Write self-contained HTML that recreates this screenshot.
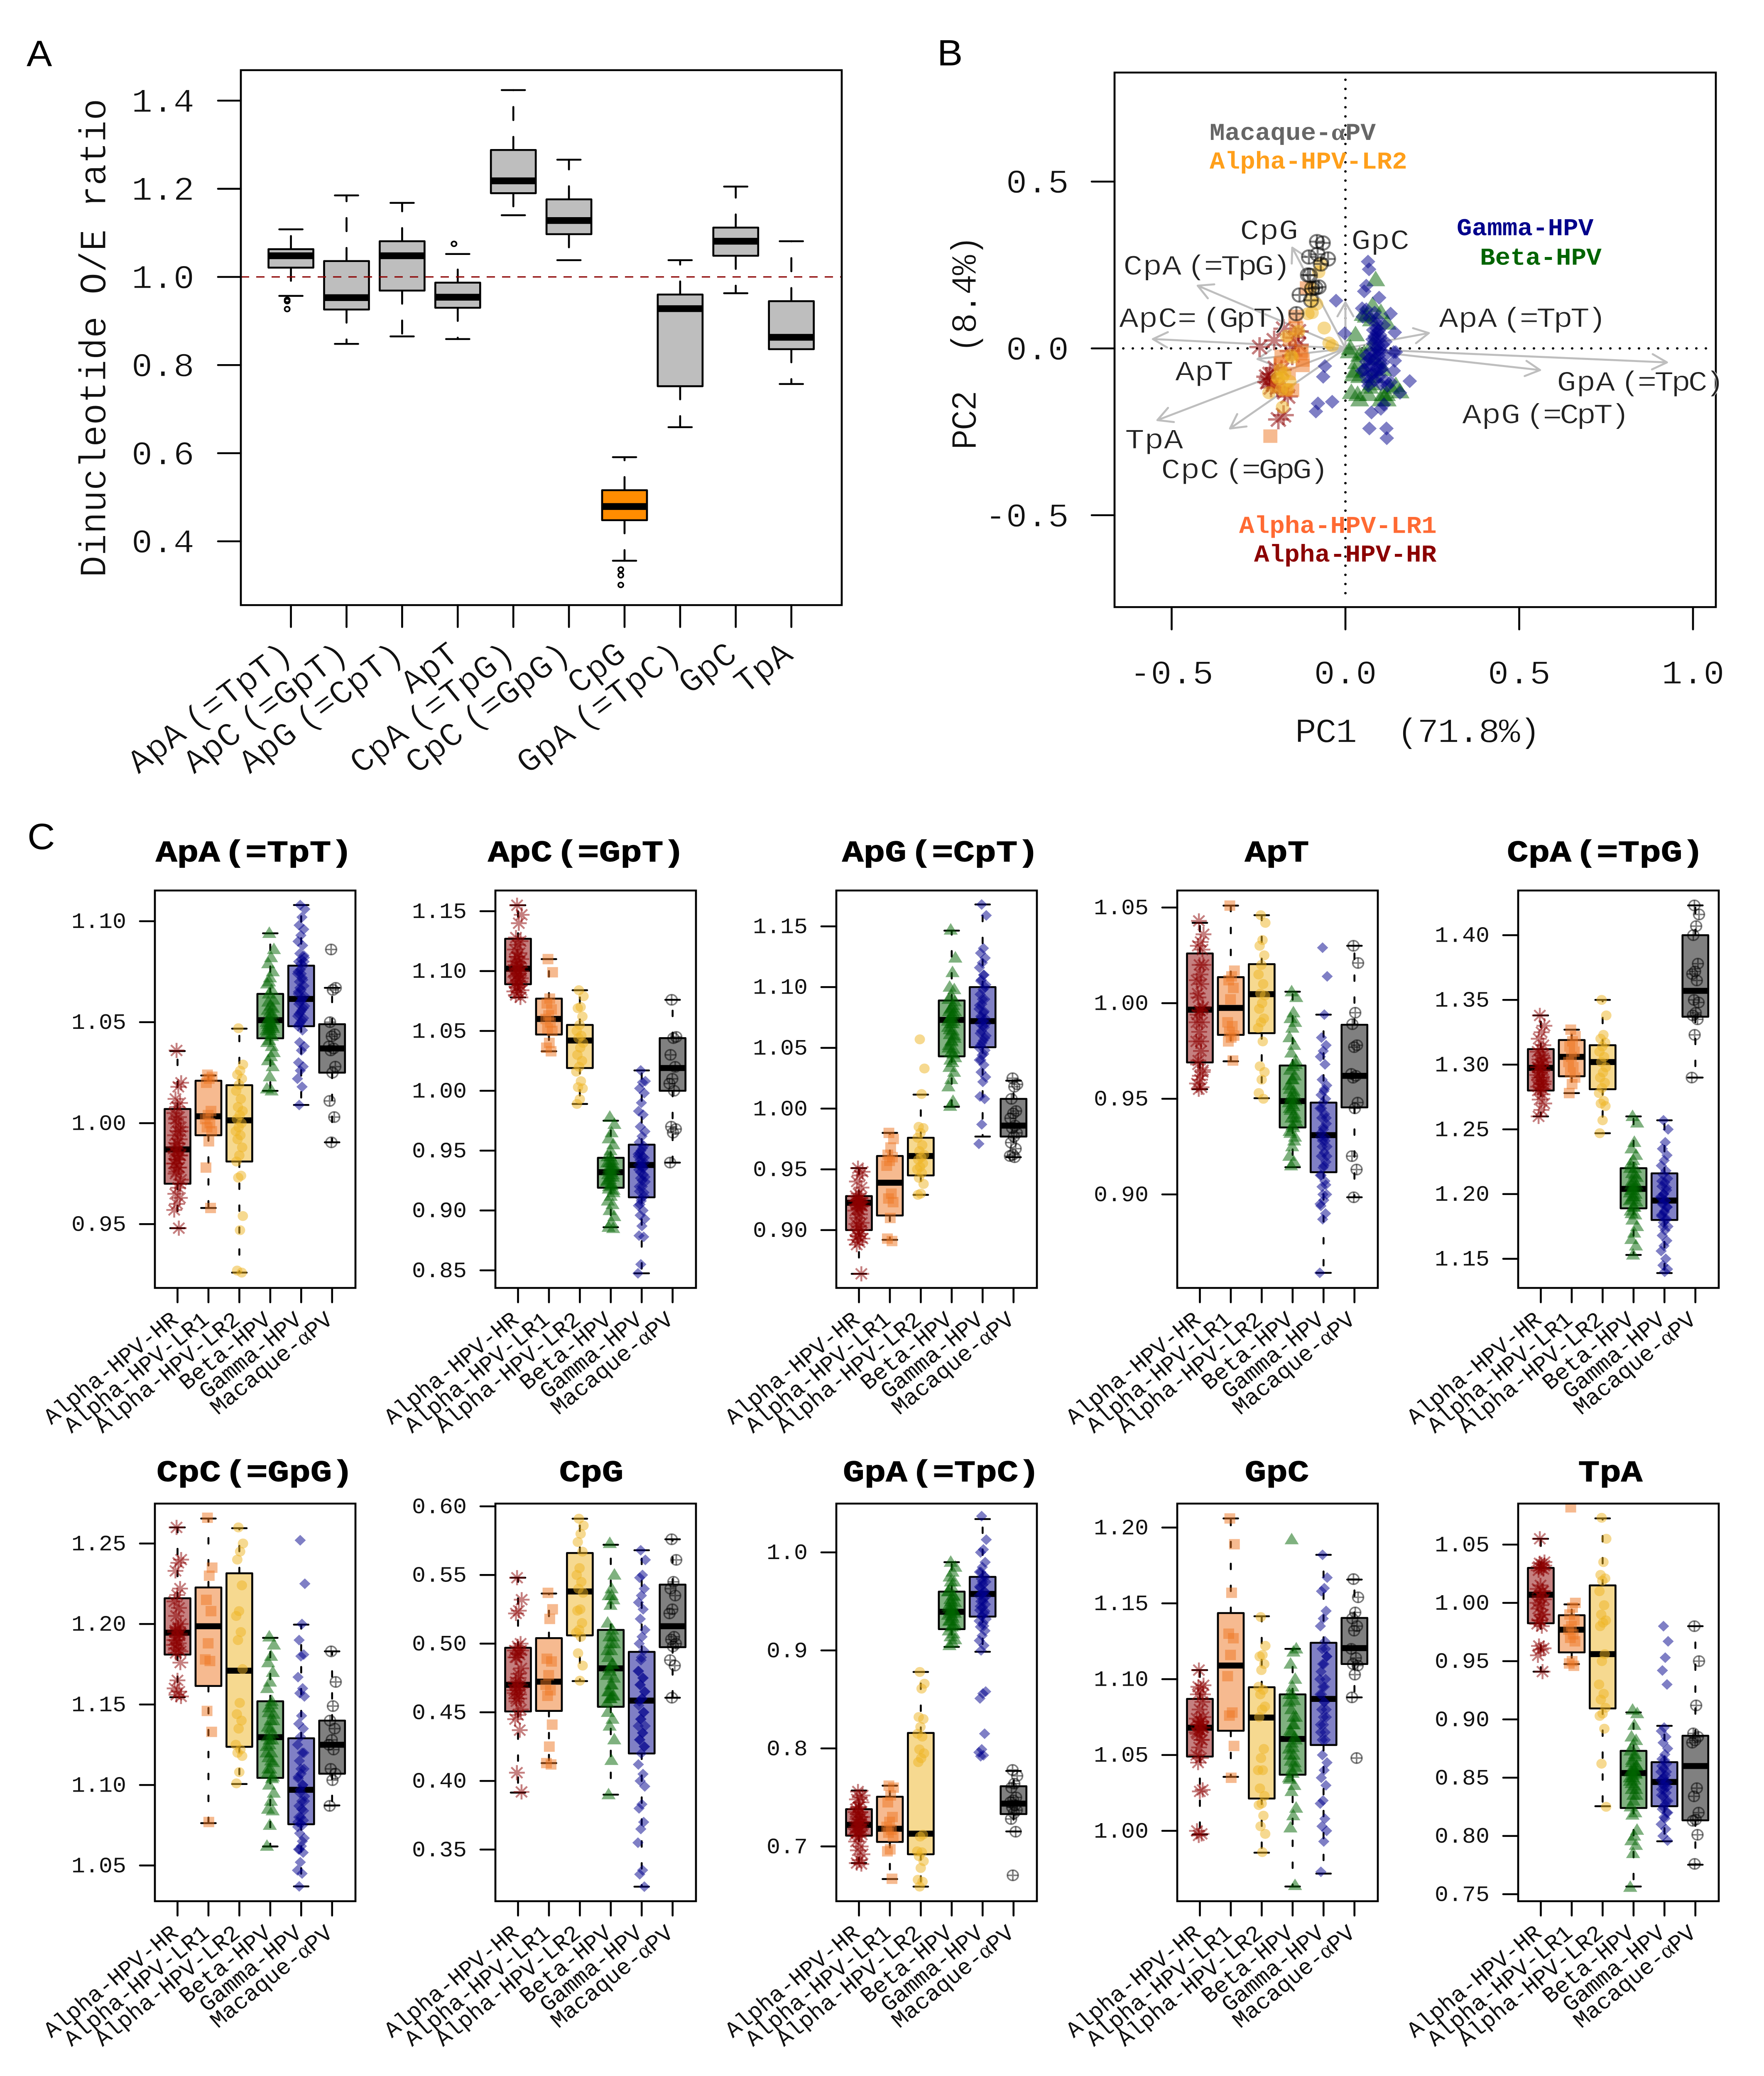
<!DOCTYPE html>
<html lang="en">
<head>
<meta charset="utf-8">
<title>Dinucleotide O/E ratio figure</title>
<style>
html,body{margin:0;padding:0;background:#fff;width:100vw;height:100vh;overflow:hidden;}
svg{display:block;width:100vw;height:100vh;}
text{font-family:"Liberation Mono",monospace;fill:#111;}
.letter{font-family:"Liberation Sans",sans-serif;font-size:92px;fill:#000;}
.ptitle{font-size:86px;font-weight:bold;text-anchor:middle;word-spacing:-42px;fill:#000;stroke:#000;stroke-width:1.4px;}
.anno{font-size:78px;fill:#222;word-spacing:-34px;stroke:#fff;stroke-width:1.2px;}
.par{letter-spacing:-6px;}
.leg{font-size:61px;font-weight:bold;}
.axt{font-size:86px;text-anchor:middle;white-space:pre;stroke:#fff;stroke-width:1.2px;}
.thin{stroke:#fff;stroke-width:1.2px;}
</style>
</head>
<body>
<svg id="fig" xmlns="http://www.w3.org/2000/svg" viewBox="0 0 4248 5208" preserveAspectRatio="none">
<rect x="0" y="0" width="4248" height="5208" fill="#fff"/>
<text class="letter" x="64" y="166">A</text>
<text class="letter" x="2257" y="164">B</text>
<text class="letter" x="66" y="2130">C</text>

<text class="axt" transform="translate(254 848) rotate(-90)" style="font-size:91px">Dinucleotide O/E ratio</text>
<text class="axt" transform="translate(2350 861) rotate(-90)" style="letter-spacing:-3px">PC2  (8.4%)</text>
<text class="axt" x="3413" y="1862" style="letter-spacing:-2.5px">PC1  (71.8%)</text>

<g id="panelA"></g>
<g id="panelB"></g>

<g>
<text class="anno" transform="translate(2986 600) scale(1 .9)">CpG</text>
<text class="anno" transform="translate(2705 689) scale(1 .9)">CpA <tspan class="par">(=TpG)</tspan></text>
<text class="anno" transform="translate(2695 820) scale(1 .9)">ApC= <tspan class="par">(GpT)</tspan></text>
<text class="anno" transform="translate(3254 625) scale(1 .9)">GpC</text>
<text class="anno" transform="translate(3465 820) scale(1 .9)">ApA <tspan class="par">(=TpT)</tspan></text>
<text class="anno" transform="translate(2830 954) scale(1 .9)">ApT</text>
<text class="anno" transform="translate(3749 980) scale(1 .9)">GpA <tspan class="par">(=TpC)</tspan></text>
<text class="anno" transform="translate(3521 1062) scale(1 .9)">ApG <tspan class="par">(=CpT)</tspan></text>
<text class="anno" transform="translate(2709 1125) scale(1 .9)">TpA</text>
<text class="anno" transform="translate(2796 1200) scale(1 .9)">CpC <tspan class="par">(=GpG)</tspan></text>
<text class="leg" x="2913" y="351" style="fill:#666">Macaque-<tspan style="font-family:'Liberation Serif',serif">α</tspan>PV</text>
<text class="leg" x="2913" y="423" style="fill:#FF9F1A">Alpha-HPV-LR2</text>
<text class="leg" x="3508" y="590" style="fill:#00008B">Gamma-HPV</text>
<text class="leg" x="3564" y="664" style="fill:#006400">Beta-HPV</text>
<text class="leg" x="2984" y="1337" style="fill:#FF6A33">Alpha-HPV-LR1</text>
<text class="leg" x="3020" y="1409" style="fill:#8B0000">Alpha-HPV-HR</text>
</g>

<g>
<text class="ptitle" transform="translate(612 2161) scale(1 .88)">ApA (=TpT)</text>
<text class="ptitle" transform="translate(1412 2161) scale(1 .88)">ApC (=GpT)</text>
<text class="ptitle" transform="translate(2265 2161) scale(1 .88)">ApG (=CpT)</text>
<text class="ptitle" transform="translate(3075 2161) scale(1 .88)">ApT</text>
<text class="ptitle" transform="translate(3866 2161) scale(1 .88)">CpA (=TpG)</text>
<text class="ptitle" transform="translate(614 3716) scale(1 .88)">CpC (=GpG)</text>
<text class="ptitle" transform="translate(1424 3716) scale(1 .88)">CpG</text>
<text class="ptitle" transform="translate(2267 3716) scale(1 .88)">GpA (=TpC)</text>
<text class="ptitle" transform="translate(3075 3716) scale(1 .88)">GpC</text>
<text class="ptitle" transform="translate(3878 3716) scale(1 .88)">TpA</text>
</g>
<g id="panelC"></g>
</svg>

<script>
/* ---------- Panel A data ---------- */
const dinucleotides = ["ApA (=TpT)","ApC (=GpT)","ApG (=CpT)","ApT","CpA (=TpG)","CpC (=GpG)","CpG","GpA (=TpC)","GpC","TpA"];
const aTicks = [1.4,1.2,1.0,0.8,0.6,0.4];
const aWhiskerHigh = [1.108,1.185,1.168,1.052,1.424,1.266,0.591,1.038,1.205,1.081];
const aQ3 = [1.063,1.036,1.081,0.987,1.288,1.176,0.516,0.960,1.112,0.945];
const aMedian = [1.048,0.953,1.048,0.954,1.218,1.128,0.479,0.928,1.081,0.863];
const aQ1 = [1.021,0.926,0.969,0.930,1.190,1.097,0.448,0.752,1.048,0.836];
const aWhiskerLow = [0.957,0.848,0.865,0.859,1.140,1.038,0.356,0.659,0.963,0.757];
const aOutlierGroup = [0,0,0,3,6,6,6];
const aOutlierValue = [0.948,0.945,0.927,1.075,0.336,0.323,0.301];

/* ---------- Panel B data ---------- */
const bTicksX = [-0.5,0.0,0.5,1.0];
const bTicksY = [0.5,0.0,-0.5];
const loadingNames = ["GpA","ApG","ApA","GpC","CpG","CpA","ApC","ApT","TpA","CpC"];
const loadingPC1 = [0.925,0.56,0.24,0,-0.153,-0.425,-0.554,-0.253,-0.541,-0.332];
const loadingPC2 = [-0.042,-0.065,0.046,0.138,0.302,0.188,0.028,-0.032,-0.215,-0.24];
const betaPC1 = [.087,.078,.051,.075,.029,.014,.011,.032,.026,.017,.041,.102,.120,.157,.118,.069,.041,.054,.075,.120,.102,.054,.084,.041,.130,.108,.035,.023,.084,.060,.078,.108,.145,.066];
const betaPC2 = [.205,.128,.101,.085,.040,0,-.011,-.043,-.069,-.133,-.155,-.155,-.155,-.131,-.139,-.117,-.085,-.064,-.107,.075,.107,-.016,-.032,-.021,-.117,-.139,-.139,-.080,-.085,.096,.011,-.064,-.112,-.139];
const gammaPC1 = [.065,.068,.060,.054,.097,-.027,-.002,.130,.048,.142,.185,-.059,-.064,-.079,-.038,-.085,.075,.069,.118,.119,.102,.111,.157,.145,.142,.139,.060,.084,.090,.090,.084,.096,.078,.108,.090,.102,.072,.084,.096,.060,.114,.084,.108,.066,.090,.054,.102,.048,.078,.096,.060,.114,.084,.130,.102,.066,.121,.139,.09,.1,.08,.095,.085,.075,.1,.07,.05,.11,.09,.065,.1,.085,.095,.07,.105,.09,.08,.075,.115,.06];
const gammaPC2 = [.260,.237,.188,.171,.152,.143,.045,.104,.120,.048,-.098,-.053,-.085,-.165,-.160,-.189,-.192,-.240,-.240,-.269,-.181,-.168,-.133,-.011,-.037,-.067,.117,.107,.075,.048,.037,.053,.027,.011,0,-.005,-.011,-.016,-.021,-.021,-.021,-.037,-.043,-.053,-.059,-.064,-.064,-.067,-.075,-.085,-.085,-.096,-.096,-.101,-.107,-.112,-.112,-.011,.06,.03,.015,.01,-.03,-.05,-.045,.09,.095,.07,.09,-.1,.04,.03,-.005,-.03,-.06,-.07,.055,-.08,.02,-.04];
const hrPC1 = [-.247,-.205,-.178,-.135,-.135,-.160,-.153,-.202,-.220,-.224,-.196,-.214,-.166,-.178,-.193,-.175,-.227,-.217,-.144,-.184,-.208];
const hrPC2 = [.004,.024,.059,.051,.011,-.008,-.021,-.059,-.091,-.101,-.117,-.117,-.144,-.200,-.213,-.131,-.085,-.077,.032,-.064,-.107];
const lr1PC1 = [-.144,-.141,-.126,-.184,-.123,-.187,-.163,-.216,-.16,-.111,-.196,-.172,-.129,-.123,-.153];
const lr1PC2 = [.096,.061,-.008,-.024,-.051,-.045,-.075,-.263,.027,.181,-.112,-.125,-.016,-.035,-.125];
const lr2PC1 = [-.071,-.077,-.099,-.099,-.083,-.108,-.096,-.061,-.047,-.038,-.169,-.135,-.157,-.181,-.160,-.220,-.184,-.166,-.181,-.153,-.187,-.196,-.193,-.175];
const lr2PC2 = [.253,.229,.181,.144,.133,.104,.107,.061,.016,.008,.037,.051,-.021,-.085,-.099,-.133,-.123,-.123,-.176,-.027,-.064,-.085,-.091,-.075];
const macaquePC1 = [-.082,-.065,-.105,-.080,-.050,-.071,-.108,-.077,-.096,-.132,-.099,-.141,-.102,-.086];
const macaquePC2 = [.320,.316,.274,.282,.268,.253,.220,.184,.179,.160,.144,.104,.219,.181];

/* ---------- Panel C data ---------- */
const groups = ["Alpha-HPV-HR","Alpha-HPV-LR1","Alpha-HPV-LR2","Beta-HPV","Gamma-HPV","Macaque-αPV"];

const ApA_ticks = [1.10,1.05,1.00,0.95];
const ApA_box = [[.948,.970,.987,1.007,1.0357],[.958,.994,1.0034,1.021,1.0236],[.926,.981,1.0014,1.0188,1.0468],[1.016,1.042,1.051,1.064,1.094],[1.009,1.048,1.0615,1.078,1.108],[.9905,1.025,1.037,1.049,1.067]];
const ApA_hr = [1.036,1.020,1.018,1.012,1.010,1.008,1.005,1.003,1.000,.998,.996,.994,.992,.990,.988,.987,.985,.984,.982,.980,.978,.976,.972,.968,.965,.963,.960,.957,.948,1.002,.996,.99,.986,.984,.982,.98,.978,.975,.97];
const ApA_lr1 = [1.024,1.023,1.022,1.020,1.006,1.004,1.002,1.0,.998,.996,.991,.978,.958];
const ApA_lr2 = [1.047,1.029,1.026,1.024,1.022,1.019,1.016,1.012,1.008,1.006,1.004,1.002,1.0,.998,.996,.994,.992,.988,.984,.981,.974,.973,.954,.947,.927,.926];
const ApA_beta = [1.094,1.086,1.082,1.079,1.075,1.072,1.069,1.066,1.064,1.061,1.058,1.056,1.054,1.052,1.05,1.049,1.048,1.047,1.046,1.045,1.043,1.041,1.035,1.033,1.031,1.028,1.023,1.017,1.016,1.052,1.051,1.05,1.049,1.048,1.047,1.046,1.044,1.06,1.057,1.055,1.04,1.038,1.07];
const ApA_gamma = [1.108,1.106,1.102,1.098,1.096,1.093,1.09,1.088,1.084,1.082,1.081,1.08,1.078,1.076,1.074,1.072,1.07,1.068,1.066,1.064,1.062,1.06,1.058,1.056,1.054,1.052,1.05,1.048,1.046,1.04,1.038,1.036,1.03,1.028,1.026,1.022,1.018,1.009,1.083,1.079,1.075,1.071,1.067,1.063,1.061,1.059,1.057,1.055,1.053,1.051,1.049,1.08,1.074,1.065];
const ApA_mac = [1.086,1.067,1.066,1.05,1.044,1.043,1.038,1.037,1.036,1.028,1.025,1.011,1.003,.9905];

const ApC_ticks = [1.15,1.10,1.05,1.00,0.95,0.90,0.85];
const ApC_box = [[1.078,1.089,1.102,1.127,1.155],[1.033,1.047,1.060,1.077,1.110],[.989,1.019,1.042,1.055,1.084],[.886,.919,.932,.944,.975],[.8475,.911,.938,.955,1.017],[.940,1.000,1.019,1.044,1.076]];
const ApC_hr = [1.155,1.147,1.14,1.128,1.125,1.122,1.118,1.115,1.112,1.11,1.107,1.105,1.103,1.101,1.1,1.098,1.096,1.094,1.092,1.09,1.088,1.086,1.084,1.082,1.08,1.078,1.112,1.108,1.104,1.102,1.1,1.097,1.095,1.091,1.087,1.083];
const ApC_lr1 = [1.110,1.099,1.077,1.073,1.068,1.063,1.06,1.057,1.052,1.05,1.04,1.036,1.033];
const ApC_lr2 = [1.084,1.079,1.07,1.069,1.062,1.055,1.05,1.046,1.044,1.04,1.036,1.03,1.025,1.02,1.016,1.008,1.003,1.002,.993,.989];
const ApC_beta = [.978,.972,.965,.96,.955,.95,.945,.942,.94,.937,.935,.933,.93,.928,.925,.922,.92,.917,.912,.908,.905,.9,.895,.89,.886,.885,.945,.94,.938,.936,.934,.932,.93,.928,.926,.924,.921,.918,.915];
const ApC_gamma = [1.017,1.008,1.007,1.002,.998,.99,.983,.98,.97,.966,.962,.957,.954,.95,.947,.945,.942,.94,.937,.934,.93,.927,.924,.92,.916,.912,.908,.904,.9,.896,.893,.887,.879,.878,.855,.8475,.952,.948,.944,.94,.938,.936,.932,.928,.925,.92,.915,.91,.945,.935,.905];
const ApC_mac = [1.076,1.045,1.044,1.03,1.02,1.01,1.006,1.0,.97,.968,.965,.94];

const ApG_ticks = [1.15,1.10,1.05,1.00,0.95,0.90];
const ApG_box = [[.864,.900,.9225,.928,.951],[.892,.912,.939,.961,.980],[.929,.945,.961,.976,1.0115],[1.0015,1.043,1.073,1.089,1.1465],[.977,1.0505,1.072,1.10,1.168],[.96,.977,.986,1.008,1.023]];
const ApG_hr = [.951,.948,.945,.94,.935,.93,.928,.926,.924,.923,.922,.921,.92,.918,.916,.913,.91,.906,.903,.9,.897,.895,.893,.89,.888,.864,.925,.924,.923,.921,.92,.917,.905,.9,.895,.892];
const ApG_lr1 = [.98,.975,.968,.962,.96,.957,.953,.93,.926,.923,.91,.893,.891];
const ApG_lr2 = [1.057,1.033,1.012,.985,.984,.98,.976,.97,.965,.962,.96,.958,.955,.952,.95,.947,.943,.938,.93,.929];
const ApG_beta = [1.147,1.124,1.112,1.1,1.098,1.093,1.09,1.085,1.082,1.08,1.077,1.074,1.072,1.07,1.067,1.064,1.061,1.058,1.055,1.052,1.049,1.046,1.042,1.038,1.034,1.03,1.024,1.018,1.006,1.002,1.088,1.083,1.08,1.078,1.075,1.072,1.07,1.065,1.06,1.056,1.05,1.045,1.04];
const ApG_gamma = [1.168,1.159,1.132,1.128,1.124,1.12,1.116,1.11,1.106,1.102,1.098,1.094,1.09,1.086,1.082,1.079,1.076,1.074,1.072,1.07,1.067,1.064,1.06,1.056,1.052,1.048,1.044,1.04,1.036,1.03,1.026,1.022,1.01,1.008,.987,.971,1.11,1.105,1.1,1.09,1.085,1.08,1.075,1.07,1.068,1.062,1.058,1.054,1.05,1.045,1.04];
const ApG_mac = [1.025,1.02,1.018,1.008,.998,.996,.992,.986,.984,.98,.977,.972,.967,.962,.961,.96];

const ApT_ticks = [1.05,1.00,0.95,0.90];
const ApT_box = [[.955,.969,.9966,1.026,1.042],[.9696,.9834,.9975,1.0136,1.051],[.9503,.9843,1.0047,1.0204,1.046],[.9142,.935,.9488,.9674,1.006],[.859,.9116,.931,.948,.994],[.8985,.9455,.962,.9887,1.03]];
const ApT_hr = [1.043,1.036,1.032,1.03,1.028,1.02,1.012,1.01,1.003,.998,.996,.994,.99,.985,.98,.975,.968,.964,.962,.958,.956,.955,1.02,1.015,1.005,.997,.996,.99,.98,.97,.965,.96];
const ApT_lr1 = [1.051,1.017,1.014,1.012,1.008,1.002,.99,.988,.985,.983,.982,.98,.97];
const ApT_lr2 = [1.046,1.042,1.033,1.03,1.025,1.02,1.015,1.01,1.005,1.004,1.0,.997,.992,.99,.987,.98,.967,.964,.96,.953,.95];
const ApT_beta = [1.006,1.003,.995,.992,.99,.987,.982,.978,.974,.97,.967,.965,.962,.96,.957,.954,.951,.949,.947,.945,.942,.94,.938,.935,.932,.93,.925,.92,.917,.915,.968,.96,.955,.952,.95,.948,.946,.944,.94,.936,.933,.928];
const ApT_gamma = [1.029,1.014,.994,.982,.978,.975,.972,.968,.96,.957,.954,.952,.95,.948,.945,.942,.94,.937,.934,.932,.93,.928,.925,.922,.92,.917,.914,.91,.907,.904,.9,.897,.894,.89,.887,.859,.955,.945,.94,.935,.93,.928,.925,.92,.915,.91,.905,.9,.895];
const ApT_mac = [1.03,1.021,.995,.989,.978,.977,.963,.962,.961,.948,.945,.92,.913,.8985];

const CpA_ticks = [1.40,1.35,1.30,1.25,1.20,1.15];
const CpA_box = [[1.26,1.28,1.2975,1.312,1.338],[1.278,1.291,1.306,1.319,1.327],[1.247,1.281,1.302,1.315,1.35],[1.153,1.189,1.204,1.22,1.26],[1.139,1.18,1.195,1.216,1.257],[1.29,1.337,1.357,1.40,1.423]];
const CpA_hr = [1.338,1.33,1.325,1.32,1.315,1.312,1.31,1.307,1.304,1.302,1.3,1.298,1.296,1.294,1.292,1.29,1.288,1.285,1.282,1.28,1.277,1.273,1.27,1.265,1.26,1.305,1.3,1.298,1.295,1.29,1.287,1.285,1.283,1.281];
const CpA_lr1 = [1.327,1.322,1.318,1.314,1.31,1.306,1.302,1.298,1.294,1.29,1.285,1.278];
const CpA_lr2 = [1.35,1.338,1.323,1.32,1.317,1.314,1.31,1.306,1.302,1.298,1.294,1.29,1.286,1.282,1.278,1.272,1.27,1.268,1.257,1.247];
const CpA_beta = [1.26,1.255,1.24,1.235,1.23,1.226,1.223,1.22,1.216,1.213,1.21,1.207,1.205,1.203,1.201,1.198,1.196,1.194,1.19,1.187,1.184,1.18,1.175,1.17,1.165,1.16,1.153,1.22,1.215,1.21,1.207,1.205,1.203,1.2,1.198,1.195,1.19,1.185];
const CpA_gamma = [1.257,1.25,1.24,1.235,1.23,1.226,1.222,1.218,1.215,1.212,1.209,1.206,1.203,1.2,1.197,1.195,1.192,1.19,1.187,1.184,1.181,1.178,1.175,1.172,1.168,1.164,1.16,1.156,1.15,1.145,1.142,1.14,1.21,1.205,1.2,1.198,1.195,1.193,1.19,1.186,1.183,1.18,1.175];
const CpA_mac = [1.423,1.416,1.407,1.4,1.378,1.372,1.37,1.365,1.35,1.348,1.34,1.338,1.335,1.323,1.29];

const CpC_ticks = [1.25,1.20,1.15,1.10,1.05];
const CpC_box = [[1.1545,1.181,1.1946,1.216,1.26],[1.0763,1.1615,1.1986,1.2227,1.2655],[1.1006,1.1237,1.171,1.2315,1.2595],[1.0618,1.1044,1.1297,1.152,1.1914],[1.037,1.0756,1.097,1.129,1.1996],[1.0873,1.107,1.125,1.14,1.183]];
const CpC_hr = [1.26,1.24,1.238,1.233,1.222,1.218,1.214,1.21,1.205,1.2,1.197,1.195,1.193,1.19,1.187,1.184,1.182,1.176,1.165,1.16,1.158,1.156,1.155,1.198,1.196,1.194,1.192,1.19,1.188,1.185,1.183];
const CpC_lr1 = [1.266,1.235,1.23,1.215,1.208,1.188,1.178,1.177,1.146,1.133,1.077];
const CpC_lr2 = [1.26,1.25,1.245,1.24,1.224,1.208,1.205,1.195,1.19,1.172,1.151,1.144,1.14,1.135,1.125,1.122,1.12,1.118,1.108,1.101];
const CpC_beta = [1.192,1.187,1.18,1.176,1.17,1.164,1.16,1.152,1.148,1.144,1.14,1.136,1.132,1.128,1.124,1.12,1.117,1.114,1.11,1.107,1.104,1.1,1.095,1.09,1.085,1.084,1.075,1.062,1.15,1.145,1.14,1.135,1.13,1.128,1.125,1.12,1.115,1.11,1.105];
const CpC_gamma = [1.252,1.225,1.2,1.19,1.181,1.18,1.167,1.16,1.157,1.155,1.143,1.138,1.135,1.13,1.125,1.12,1.115,1.11,1.107,1.104,1.1,1.097,1.093,1.09,1.087,1.084,1.08,1.077,1.075,1.07,1.067,1.062,1.06,1.058,1.052,1.047,1.045,1.037,1.12,1.11,1.105,1.1,1.095,1.09,1.085,1.08,1.078,1.076,1.074,1.065,1.06];
const CpC_mac = [1.183,1.164,1.149,1.14,1.135,1.128,1.125,1.122,1.11,1.107,1.103,1.087];

const CpG_ticks = [0.60,0.55,0.50,0.45,0.40,0.35];
const CpG_box = [[.3915,.4506,.47,.497,.548],[.413,.451,.4723,.504,.5365],[.4727,.506,.538,.566,.591],[.39,.454,.482,.51,.572],[.323,.42,.4585,.494,.568],[.4606,.4974,.5127,.543,.576]];
const CpG_hr = [.548,.532,.524,.522,.5,.498,.495,.492,.49,.482,.478,.472,.47,.468,.466,.463,.46,.452,.448,.445,.437,.406,.392,.475,.47,.468,.466,.464,.46,.458,.495,.493,.49];
const CpG_lr1 = [.537,.525,.518,.489,.487,.477,.47,.466,.462,.441,.425,.413,.412];
const CpG_lr2 = [.591,.586,.58,.574,.567,.555,.55,.545,.54,.537,.525,.524,.515,.51,.508,.505,.493,.484,.473];
const CpG_beta = [.573,.55,.54,.535,.532,.528,.515,.51,.505,.5,.495,.49,.485,.48,.477,.47,.465,.462,.46,.45,.445,.44,.43,.415,.39,.505,.5,.495,.485,.482,.475,.47,.465,.462,.46,.457,.535];
const CpG_gamma = [.568,.561,.55,.548,.54,.535,.53,.525,.518,.51,.505,.5,.495,.488,.48,.475,.47,.465,.46,.455,.45,.445,.44,.435,.43,.425,.42,.412,.405,.4,.396,.383,.38,.37,.365,.355,.335,.332,.323,.49,.48,.475,.47,.465,.46,.458,.45,.445,.44,.435,.43,.425];
const CpG_mac = [.576,.561,.545,.54,.535,.525,.522,.505,.503,.5,.498,.488,.484,.4606];

const GpA_ticks = [1.0,0.9,0.8,0.7];
const GpA_box = [[.683,.711,.722,.738,.757],[.6667,.7046,.718,.7507,.762],[.659,.692,.713,.8158,.878],[.9036,.9217,.9394,.96,.99],[.8986,.9345,.9576,.975,1.034],[.7153,.733,.7437,.7614,.777]];
const GpA_hr = [.756,.752,.75,.748,.745,.74,.738,.735,.733,.73,.727,.725,.723,.72,.718,.716,.714,.712,.71,.705,.7,.696,.692,.686,.683,.682,.74,.735,.73,.728,.725,.722,.72,.718,.715,.712];
const GpA_lr1 = [.762,.76,.752,.745,.73,.725,.72,.717,.714,.71,.697,.695,.667];
const GpA_lr2 = [.878,.866,.861,.832,.83,.822,.815,.812,.799,.795,.79,.786,.712,.71,.695,.694,.69,.685,.678,.666,.664,.659];
const GpA_beta = [.99,.985,.98,.975,.97,.965,.96,.956,.952,.949,.946,.943,.94,.938,.936,.933,.93,.927,.924,.92,.917,.914,.911,.908,.905,.955,.95,.945,.942,.94,.938,.935,.93,.925,.97,.96];
const GpA_gamma = [1.037,1.013,1.003,1.0,.99,.985,.98,.976,.973,.97,.967,.964,.96,.958,.956,.953,.95,.947,.944,.941,.938,.935,.932,.928,.924,.92,.915,.91,.905,.9,.858,.856,.851,.815,.799,.796,.793,.792,.975,.97,.965,.96,.957,.955,.95,.945,.94,.935,.93,.925,.98];
const GpA_mac = [.778,.772,.764,.76,.75,.747,.745,.742,.74,.737,.734,.728,.715,.6705];

const GpC_ticks = [1.20,1.15,1.10,1.05,1.00];
const GpC_box = [[.9976,1.049,1.068,1.087,1.106],[1.0356,1.066,1.109,1.1436,1.206],[.9856,1.0213,1.0747,1.0947,1.1415],[.9633,1.037,1.0606,1.09,1.12],[.9718,1.0566,1.087,1.124,1.182],[1.088,1.11,1.1205,1.1404,1.1657]];
const GpC_hr = [1.106,1.096,1.094,1.09,1.085,1.08,1.074,1.072,1.07,1.068,1.066,1.064,1.06,1.055,1.05,1.048,1.045,1.027,1.026,1.0,.998,.997,1.075,1.072,1.07,1.068,1.067,1.065,1.06,1.095,1.09];
const GpC_lr1 = [1.206,1.189,1.157,1.13,1.127,1.116,1.102,1.078,1.076,1.056,1.035];
const GpC_lr2 = [1.141,1.122,1.116,1.115,1.11,1.106,1.095,1.093,1.09,1.082,1.08,1.075,1.054,1.048,1.04,1.04,1.028,1.023,1.018,1.017,1.01,1.003,.998,.986];
const GpC_beta = [1.192,1.12,1.118,1.11,1.1,1.095,1.09,1.086,1.08,1.075,1.07,1.066,1.062,1.058,1.054,1.05,1.046,1.042,1.038,1.034,1.03,1.026,1.015,1.01,1.002,.964,1.09,1.085,1.07,1.065,1.06,1.055,1.05,1.045,1.04,1.035,1.075];
const GpC_gamma = [1.182,1.167,1.16,1.158,1.145,1.14,1.135,1.125,1.12,1.115,1.11,1.105,1.1,1.095,1.09,1.085,1.08,1.075,1.07,1.065,1.06,1.05,1.045,1.04,1.035,1.03,1.02,1.018,1.008,1.003,1.0,.993,.973,1.12,1.11,1.1,1.095,1.09,1.08,1.075,1.07,1.065,1.06,1.115,1.085];
const GpC_mac = [1.166,1.154,1.144,1.14,1.135,1.132,1.12,1.114,1.11,1.109,1.103,1.088,1.048];

const TpA_ticks = [1.05,1.00,0.95,0.90,0.85,0.80,0.75];
const TpA_box = [[.941,.9825,1.007,1.03,1.055],[.9475,.9575,.977,.9894,.9987],[.8255,.9094,.956,1.015,1.0725],[.7566,.824,.854,.873,.906],[.7954,.8255,.8463,.8633,.8945],[.7753,.8134,.86,.886,.98]];
const TpA_hr = [1.055,1.035,1.033,1.031,1.029,1.015,1.012,1.01,1.006,1.003,.998,.995,.99,.985,.982,.98,.963,.961,.96,.955,.941,1.034,1.032,1.03,1.028,1.01,1.005,1.0,.99,.985];
const TpA_lr1 = [1.082,1.0,.996,.99,.985,.98,.977,.973,.97,.967,.95,.948,.946];
const TpA_lr2 = [1.073,1.055,1.035,1.024,1.021,1.019,1.01,.998,.99,.985,.983,.98,.956,.95,.93,.922,.917,.91,.905,.903,.892,.862,.825];
const TpA_beta = [.908,.905,.895,.885,.882,.878,.873,.868,.863,.86,.857,.855,.853,.85,.847,.843,.84,.835,.83,.825,.82,.818,.805,.8,.796,.792,.785,.756,.87,.865,.86,.858,.856,.854,.852,.85,.848,.845,.84,.835];
const TpA_gamma = [.98,.967,.953,.942,.93,.893,.89,.885,.88,.875,.87,.866,.862,.858,.855,.852,.849,.846,.843,.84,.837,.834,.83,.827,.823,.82,.816,.81,.806,.8,.796,.865,.86,.855,.85,.848,.846,.844,.842,.84,.835,.83,.825,.82,.815];
const TpA_mac = [.98,.95,.912,.888,.885,.882,.88,.841,.834,.82,.814,.813,.801,.776];

/* ---------- Rendering ---------- */
const NS = "http://www.w3.org/2000/svg";
const LW = 4.7;

function make(parent, tag, name, attrs) {
  const el = document.createElementNS(NS, tag);
  
  
  for (const k in attrs) el.setAttribute(k, attrs[k]);
  parent.appendChild(el);
  return el;
}
function seg(p, name, x1, y1, x2, y2, extra) {
  return make(p, 'line', name, Object.assign({x1, y1, x2, y2, stroke:'#000', 'stroke-width':LW, 'stroke-linecap':'round'}, extra || {}));
}
function label(p, name, x, y, str, attrs) {
  const t = make(p, 'text', name, Object.assign({x, y}, attrs));
  const idx = str.indexOf('α');
  if (idx < 0) { t.textContent = str; return t; }
  t.appendChild(document.createTextNode(str.slice(0, idx)));
  const sp = document.createElementNS(NS, 'tspan');
  sp.setAttribute('style', "font-family:'Liberation Serif',serif");
  sp.textContent = 'α';
  t.appendChild(sp);
  t.appendChild(document.createTextNode(str.slice(idx + 1)));
  return t;
}
function linear(d0, d1, r0, r1) { return v => r0 + (v - d0) * (r1 - r0) / (d1 - d0); }
function jitterAt(i) { const f = (i * 0.618034 + 0.37) % 1; return f * 2 - 1; }

const COLORS = ['#8B0000','#EE7621','#EEB422','#006400','#00008B','#000000'];
const BOXFILL = ['#C58080','#F6BA90','#F6D990','#80B180','#8080C5','#808080'];
const MARK_NAMES = ['point-alpha-hr','point-alpha-lr1','point-alpha-lr2','point-beta','point-gamma','point-macaque'];

/* draws one marker of series s centred on x,y; k scales the glyph */
function marker(p, s, x, y, k) {
  const c = COLORS[s], n = MARK_NAMES[s];
  if (s === 0) {
    const r = 19 * k, q = r * 0.707;
    make(p, 'path', n, {d:`M${x-r} ${y}H${x+r}M${x} ${y-r}V${y+r}M${x-q} ${y-q}L${x+q} ${y+q}M${x-q} ${y+q}L${x+q} ${y-q}`, stroke:c, 'stroke-width':4.6*k, 'stroke-opacity':0.5, fill:'none'});
  } else if (s === 1) {
    const r = 13 * k;
    make(p, 'rect', n, {x:x-r, y:y-r, width:2*r, height:2*r, fill:c, 'fill-opacity':0.5});
  } else if (s === 2) {
    make(p, 'circle', n, {cx:x, cy:y, r:12.5*k, fill:c, 'fill-opacity':0.5});
  } else if (s === 3) {
    const b = 17 * k, h = 29 * k;
    make(p, 'path', n, {d:`M${x} ${y-h*0.6}L${x+b} ${y+h*0.4}L${x-b} ${y+h*0.4}Z`, fill:c, 'fill-opacity':0.5});
  } else if (s === 4) {
    const r = 13.5 * k;
    make(p, 'path', n, {d:`M${x} ${y-r}L${x+r} ${y}L${x} ${y+r}L${x-r} ${y}Z`, fill:c, 'fill-opacity':0.5});
  } else {
    const r = 13 * k;
    make(p, 'path', n, {d:`M${x-r} ${y}H${x+r}M${x} ${y-r}V${y+r}`, stroke:c, 'stroke-width':3.8*k, 'stroke-opacity':0.5, fill:'none'});
    make(p, 'circle', n + '-ring', {cx:x, cy:y, r:r, stroke:c, 'stroke-width':3.8*k, 'stroke-opacity':0.5, fill:'none'});
  }
}

function boxGlyph(p, cx, halfBox, capHalf, y, stats, fill, medW, dash) {
  const lo = y(stats[0]), q1 = y(stats[1]), med = y(stats[2]), q3 = y(stats[3]), hi = y(stats[4]);
  seg(p, 'whisker-upper', cx, q3, cx, hi, {'stroke-dasharray':dash});
  seg(p, 'whisker-lower', cx, q1, cx, lo, {'stroke-dasharray':dash});
  seg(p, 'whisker-cap-upper', cx - capHalf, hi, cx + capHalf, hi);
  seg(p, 'whisker-cap-lower', cx - capHalf, lo, cx + capHalf, lo);
  make(p, 'rect', 'box-body', {x:cx-halfBox, y:q3, width:2*halfBox, height:Math.max(0, q1-q3), fill, stroke:'#000', 'stroke-width':LW, 'stroke-linejoin':'round'});
  seg(p, 'box-median', cx - halfBox, med, cx + halfBox, med, {'stroke-width':medW, 'stroke-linecap':'butt'});
}

/* Panel A */
(function () {
  const g = document.getElementById('panelA');
  const L = 580, R = 2027, T = 176, B = 1518;
  const y = linear(0.2553, 1.4692, B, T);
  const x = i => 700.6 + 133.9 * i;
  aTicks.forEach(t => {
    seg(g, 'y-tick', L - 55, y(t), L, y(t));
    label(g, 'y-tick-label', L - 112, y(t) + 28, t.toFixed(1), {'font-size':84, 'text-anchor':'end', 'class':'thin'});
  });
  dinucleotides.forEach((d, i) => {
    seg(g, 'x-tick', x(i), B, x(i), B + 55);
    label(g, 'x-tick-label', x(i) + 8, B + 132, d, {'font-size':84, 'text-anchor':'end', 'word-spacing':'-28px', 'class':'thin', transform:`rotate(-38 ${x(i)+8} ${B+132})`});
    boxGlyph(g, x(i), 54, 28, y, [aWhiskerLow[i], aQ1[i], aMedian[i], aQ3[i], aWhiskerHigh[i]], i === 6 ? '#FF8C00' : '#BEBEBE', 17, '33 42');
  });
  aOutlierValue.forEach((v, i) => {
    make(g, 'circle', 'outlier', {cx:x(aOutlierGroup[i]) - 9, cy:y(v), r:6, fill:'none', stroke:'#000', 'stroke-width':4});
  });
  make(g, 'line', 'reference-line-one', {x1:L, y1:y(1), x2:R, y2:y(1), stroke:'#8B0000', 'stroke-width':3.2, 'stroke-dasharray':'20 17'});
  make(g, 'rect', 'panel-a-frame', {x:L, y:T, width:R-L, height:B-T, fill:'none', stroke:'#000', 'stroke-width':LW});
})();

/* Panel B */
(function () {
  const g = document.getElementById('panelB');
  const L = 2684, R = 4132, T = 182, B = 1523;
  const x = linear(-0.6643, 1.0657, L, R);
  const y = linear(-0.7754, 0.8268, B, T);
  bTicksX.forEach(t => {
    seg(g, 'x-tick', x(t), B, x(t), B + 56);
    label(g, 'x-tick-label', x(t), 1715, t.toFixed(1), {'font-size':84, 'text-anchor':'middle', 'class':'thin'});
  });
  bTicksY.forEach(t => {
    seg(g, 'y-tick', L - 55, y(t), L, y(t));
    label(g, 'y-tick-label', L - 110, y(t) + 28, t.toFixed(1), {'font-size':84, 'text-anchor':'end', 'class':'thin'});
  });
  make(g, 'line', 'zero-line-horizontal', {x1:2705, y1:y(0), x2:4127, y2:y(0), stroke:'#000', 'stroke-width':6, 'stroke-linecap':'round', 'stroke-dasharray':'0.1 22.9'});
  make(g, 'line', 'zero-line-vertical', {x1:x(0), y1:200, x2:x(0), y2:1505, stroke:'#000', 'stroke-width':6, 'stroke-linecap':'round', 'stroke-dasharray':'0.1 22.9'});
  loadingNames.forEach((n, i) => {
    const x2 = x(loadingPC1[i]), y2 = y(loadingPC2[i]), x0 = x(0), y0 = y(0);
    const a = Math.atan2(y2 - y0, x2 - x0), h = 40, w = 0.5;
    make(g, 'path', 'loading-arrow-' + n.toLowerCase(), {
      d:`M${x0} ${y0}L${x2} ${y2}M${x2 - h*Math.cos(a-w)} ${y2 - h*Math.sin(a-w)}L${x2} ${y2}L${x2 - h*Math.cos(a+w)} ${y2 - h*Math.sin(a+w)}`,
      stroke:'#BEBEBE', 'stroke-width':5, fill:'none', 'stroke-linecap':'round', 'stroke-linejoin':'round'});
  });
  const series = [[3,betaPC1,betaPC2],[4,gammaPC1,gammaPC2],[0,hrPC1,hrPC2],[1,lr1PC1,lr1PC2],[2,lr2PC1,lr2PC2],[5,macaquePC1,macaquePC2]];
  series.forEach(([s, a, b]) => a.forEach((v, i) => marker(g, s, x(v), y(b[i]), s === 3 ? 1.35 : 1.3)));
  make(g, 'rect', 'panel-b-frame', {x:L, y:T, width:R-L, height:B-T, fill:'none', stroke:'#000', 'stroke-width':LW});
})();

/* Panel C */
const panelLefts = [373,1193,2014,2835,3656];
function smallPanel(col, rowTop, rowBottom, name, ticks, decimals, yLo, yHi, box, points) {
  const root = document.getElementById('panelC');
  const g = make(root, 'g', 'panel-' + name, {});
  const L = panelLefts[col], W = 483;
  const y = linear(yLo, yHi, rowBottom, rowTop);
  const x = i => L + 54.5 + 74.45 * i;
  const cid = 'clip-' + name;
  const defs = make(g, 'clipPath', 'clip-region', {id:cid});
  make(defs, 'rect', 'clip-rect', {x:L, y:rowTop, width:W, height:rowBottom-rowTop});
  ticks.forEach(t => {
    seg(g, 'y-tick', L - 36, y(t), L, y(t));
    label(g, 'y-tick-label', L - 69, y(t) + 17, t.toFixed(decimals), {'font-size':55, 'text-anchor':'end'});
  });
  groups.forEach((c, i) => {
    seg(g, 'x-tick', x(i), rowBottom, x(i), rowBottom + 36);
    label(g, 'x-tick-label', x(i) + 5, rowBottom + 85, c, {'font-size':56, 'text-anchor':'end', transform:`rotate(-40 ${x(i)+5} ${rowBottom+85})`});
    boxGlyph(g, x(i), 31, 17.5, y, box[i], BOXFILL[i], 15, '14 41');
  });
  const pts = make(g, 'g', 'points', {'clip-path':`url(#${cid})`});
  points.forEach((arr, s) => arr.forEach((v, i) => marker(pts, s, x(s) + jitterAt(i) * 9, y(v), 1)));
  make(g, 'rect', 'panel-frame', {x:L, y:rowTop, width:W, height:rowBottom-rowTop, fill:'none', stroke:'#000', 'stroke-width':LW});
}
const R1T = 2234, R1B = 3231, R2T = 3772, R2B = 4769.5;
smallPanel(0,R1T,R1B,'apa',ApA_ticks,2,.9184,1.1152,ApA_box,[ApA_hr,ApA_lr1,ApA_lr2,ApA_beta,ApA_gamma,ApA_mac]);
smallPanel(1,R1T,R1B,'apc',ApC_ticks,2,.8353,1.1673,ApC_box,[ApC_hr,ApC_lr1,ApC_lr2,ApC_beta,ApC_gamma,ApC_mac]);
smallPanel(2,R1T,R1B,'apg',ApG_ticks,2,.8524,1.1795,ApG_box,[ApG_hr,ApG_lr1,ApG_lr2,ApG_beta,ApG_gamma,ApG_mac]);
smallPanel(3,R1T,R1B,'apt',ApT_ticks,2,.8511,1.0589,ApT_box,[ApT_hr,ApT_lr1,ApT_lr2,ApT_beta,ApT_gamma,ApT_mac]);
smallPanel(4,R1T,R1B,'cpa',CpA_ticks,2,1.1275,1.4345,CpA_box,[CpA_hr,CpA_lr1,CpA_lr2,CpA_beta,CpA_gamma,CpA_mac]);
smallPanel(0,R2T,R2B,'cpc',CpC_ticks,2,1.0278,1.2748,CpC_box,[CpC_hr,CpC_lr1,CpC_lr2,CpC_beta,CpC_gamma,CpC_mac]);
smallPanel(1,R2T,R2B,'cpg',CpG_ticks,2,.3124,.602,CpG_box,[CpG_hr,CpG_lr1,CpG_lr2,CpG_beta,CpG_gamma,CpG_mac]);
smallPanel(2,R2T,R2B,'gpa',GpA_ticks,1,.6441,1.0498,GpA_box,[GpA_hr,GpA_lr1,GpA_lr2,GpA_beta,GpA_gamma,GpA_mac]);
smallPanel(3,R2T,R2B,'gpc',GpC_ticks,2,.9536,1.2158,GpC_box,[GpC_hr,GpC_lr1,GpC_lr2,GpC_beta,GpC_gamma,GpC_mac]);
smallPanel(4,R2T,R2B,'tpa',TpA_ticks,2,.744,1.0852,TpA_box,[TpA_hr,TpA_lr1,TpA_lr2,TpA_beta,TpA_gamma,TpA_mac]);
</script>
</body>
</html>
